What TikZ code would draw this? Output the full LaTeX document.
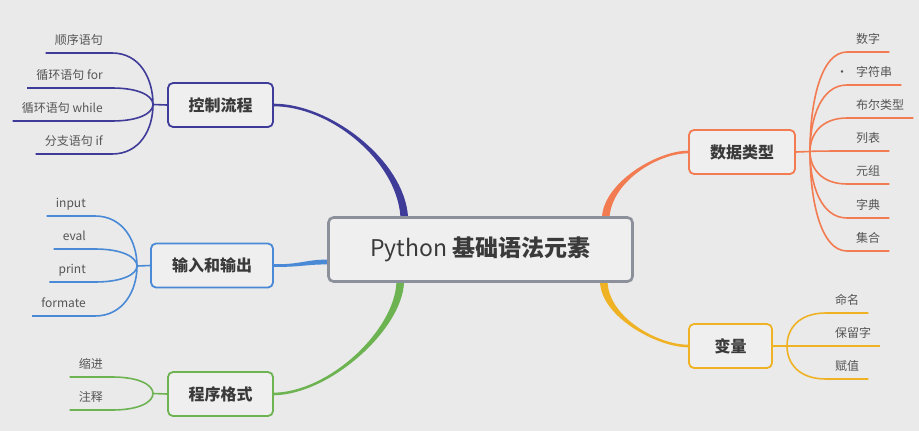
\documentclass[tikz,border=0pt]{standalone}
\usepackage{fontspec}
\setmainfont{Noto Sans CJK SC}
\usepackage{tikz}
\usetikzlibrary{calc,backgrounds}
\definecolor{pyink}{HTML}{3A3A3A}
\definecolor{pyleaf}{HTML}{555555}
\definecolor{pybg}{HTML}{EAEAEA}
\definecolor{pyboxbg}{HTML}{EFEFEF}
\definecolor{pyroot}{HTML}{8C909A}
\definecolor{pyctrl}{HTML}{3F3B98}
\definecolor{pyio}{HTML}{4A89D6}
\definecolor{pyfmt}{HTML}{6DB352}
\definecolor{pytype}{HTML}{F27B52}
\definecolor{pyvar}{HTML}{F0B225}
\tikzset{
  root/.style  = {rectangle, rounded corners=5pt, draw=pyroot, line width=2.6pt, fill=pyboxbg,
                  minimum width=304pt, minimum height=64pt, text=pyink,
                  font=\fontsize{23}{26}\selectfont},
  topic/.style = {rectangle, rounded corners=5pt, line width=1.8pt, fill=pyboxbg,
                  minimum height=44pt, text=pyink, font=\fontsize{16}{19}\selectfont\bfseries},
  leaf/.style  = {inner xsep=9pt, inner ysep=6pt, text height=10pt, text depth=2pt,
                  text=pyleaf, font=\fontsize{12}{14}\selectfont},
  leafl/.style = {leaf, anchor=south east},
  leafr/.style = {leaf, anchor=south west},
  twig/.style  = {line width=1.6pt},
}
% tapering main branch: thin at the topic, thick at the root
\newcommand{\taper}[6]{%
  \fill[#1] ($#2+(0,-1.3)$) .. controls ($#3+(0,-1.3)$) and ($#4+#6$) .. ($#5+#6$)
    -- ($#5-#6$) .. controls ($#4-#6$) and ($#3+(0,1.3)$) .. ($#2+(0,1.3)$) -- cycle;}

\begin{document}
\begin{tikzpicture}[x=1pt, y=-1pt]
\useasboundingbox (0,0) rectangle (919,431);

\node[root] (root) at (480.5,249.5) {Python \textbf{基础语法元素}};

\node[topic, draw=pyctrl, minimum width=105pt] (ctrl) at (220.5,105) {控制流程};
\node[topic, draw=pyio, minimum width=122pt] (io) at (212,265.5) {输入和输出};
\node[topic, draw=pyfmt, minimum width=105pt] (fmt) at (220.5,394) {程序格式};
\node[topic, draw=pytype, minimum width=106pt] (dtype) at (742,152) {数据类型};
\node[topic, draw=pyvar, minimum width=83pt] (var) at (730.5,346) {变量};

\coordinate (ctrlhub) at (153,104.5);
\coordinate (iohub) at (137,266);
\coordinate (fmthub) at (153,393.5);
\coordinate (dtypehub) at (810,151.5);
\coordinate (varhub) at (787,346);

\coordinate (rootctrl) at ($(root.north west)+(77,0)$);
\coordinate (rootio) at ($(root.west)+(0,12.5)$);
\coordinate (rootfmt) at ($(root.south west)+(73,0)$);
\coordinate (roottype) at ($(root.north east)+(-28,0)$);
\coordinate (rootvar) at ($(root.south east)+(-30,0)$);

\node[leafl] (c1) at (112,53) {顺序语句};
\node[leafl] (c2) at (112,88) {循环语句 for};
\node[leafl] (c3) at (112,121) {循环语句 while};
\node[leafl] (c4) at (112,154) {分支语句 if};

\node[leafl] (i1) at (95,216) {input};
\node[leafl] (i2) at (95,249) {eval};
\node[leafl] (i3) at (95,282) {print};
\node[leafl] (i4) at (95,316) {formate};

\node[leafl] (f1) at (112,377) {缩进};
\node[leafl] (f2) at (112,410) {注释};

\node[leafr] (d1) at (847,52) {数字};
\node[leafr] (d2) at (847,85) {\llap{·\hspace{8pt}}字符串};
\node[leafr] (d3) at (847,118) {布尔类型};
\node[leafr] (d4) at (847,151) {列表};
\node[leafr] (d5) at (847,184) {元组};
\node[leafr] (d6) at (847,218) {字典};
\node[leafr] (d7) at (847,251) {集合};

\node[leafr] (v1) at (826,313) {命名};
\node[leafr] (v2) at (826,346) {保留字};
\node[leafr] (v3) at (826,379) {赋值};

\begin{scope}[on background layer]
\fill[pybg] (0,0) rectangle (919,431);
\taper{pyctrl}{(ctrl.east)}{(330,105)}{(400,160)}{(rootctrl)}{(3.8,0)}
\taper{pyio}{(io.east)}{(300,266)}{(305,262)}{(rootio)}{(0,-2.4)}
\taper{pyfmt}{(fmt.east)}{(330,393)}{(398,330)}{(rootfmt)}{(-3.8,0)}
\taper{pytype}{(dtype.west)}{(658,152)}{(609,181)}{(roottype)}{(-3.8,0)}
\taper{pyvar}{(var.west)}{(658,346)}{(606,318)}{(rootvar)}{(3.8,0)}
\end{scope}

\draw[twig, pyctrl] (ctrl.west) -- (ctrlhub);
\draw[twig, pyctrl] (c1.south west) -- (c1.south east) .. controls +(28,0) and ($(ctrlhub)!0.5!(ctrlhub |- c1.south)$) .. (ctrlhub);
\draw[twig, pyctrl] (c2.south west) -- (c2.south east) .. controls +(28,0) and ($(ctrlhub)!0.5!(ctrlhub |- c2.south)$) .. (ctrlhub);
\draw[twig, pyctrl] (c3.south west) -- (c3.south east) .. controls +(28,0) and ($(ctrlhub)!0.5!(ctrlhub |- c3.south)$) .. (ctrlhub);
\draw[twig, pyctrl] (c4.south west) -- (c4.south east) .. controls +(28,0) and ($(ctrlhub)!0.5!(ctrlhub |- c4.south)$) .. (ctrlhub);

\draw[twig, pyio] (io.west) -- (iohub);
\draw[twig, pyio] (i1.south west) -- (i1.south east) .. controls +(28,0) and ($(iohub)!0.5!(iohub |- i1.south)$) .. (iohub);
\draw[twig, pyio] (i2.south west) -- (i2.south east) .. controls +(28,0) and ($(iohub)!0.5!(iohub |- i2.south)$) .. (iohub);
\draw[twig, pyio] (i3.south west) -- (i3.south east) .. controls +(28,0) and ($(iohub)!0.5!(iohub |- i3.south)$) .. (iohub);
\draw[twig, pyio] (i4.south west) -- (i4.south east) .. controls +(28,0) and ($(iohub)!0.5!(iohub |- i4.south)$) .. (iohub);

\draw[twig, pyfmt] (fmt.west) -- (fmthub);
\draw[twig, pyfmt] (f1.south west) -- (f1.south east) .. controls +(28,0) and ($(fmthub)!0.5!(fmthub |- f1.south)$) .. (fmthub);
\draw[twig, pyfmt] (f2.south west) -- (f2.south east) .. controls +(28,0) and ($(fmthub)!0.5!(fmthub |- f2.south)$) .. (fmthub);

\draw[twig, pytype] (dtype.east) -- (dtypehub);
\draw[twig, pytype] (d1.south east) -- (d1.south west) .. controls +(-26,0) and ($(dtypehub)!0.5!(dtypehub |- d1.south)$) .. (dtypehub);
\draw[twig, pytype] (d2.south east) -- (d2.south west) .. controls +(-26,0) and ($(dtypehub)!0.5!(dtypehub |- d2.south)$) .. (dtypehub);
\draw[twig, pytype] (d3.south east) -- (d3.south west) .. controls +(-26,0) and ($(dtypehub)!0.5!(dtypehub |- d3.south)$) .. (dtypehub);
\draw[twig, pytype] (d4.south east) -- (d4.south west) .. controls +(-26,0) and ($(dtypehub)!0.5!(dtypehub |- d4.south)$) .. (dtypehub);
\draw[twig, pytype] (d5.south east) -- (d5.south west) .. controls +(-26,0) and ($(dtypehub)!0.5!(dtypehub |- d5.south)$) .. (dtypehub);
\draw[twig, pytype] (d6.south east) -- (d6.south west) .. controls +(-26,0) and ($(dtypehub)!0.5!(dtypehub |- d6.south)$) .. (dtypehub);
\draw[twig, pytype] (d7.south east) -- (d7.south west) .. controls +(-26,0) and ($(dtypehub)!0.5!(dtypehub |- d7.south)$) .. (dtypehub);

\draw[twig, pyvar] (var.east) -- (varhub);
\draw[twig, pyvar] (v1.south east) -- (v1.south west) .. controls +(-28,0) and ($(varhub)!0.5!(varhub |- v1.south)$) .. (varhub);
\draw[twig, pyvar] (v2.south east) -- (v2.south west) -- (varhub);
\draw[twig, pyvar] (v3.south east) -- (v3.south west) .. controls +(-28,0) and ($(varhub)!0.5!(varhub |- v3.south)$) .. (varhub);

\end{tikzpicture}
\end{document}
